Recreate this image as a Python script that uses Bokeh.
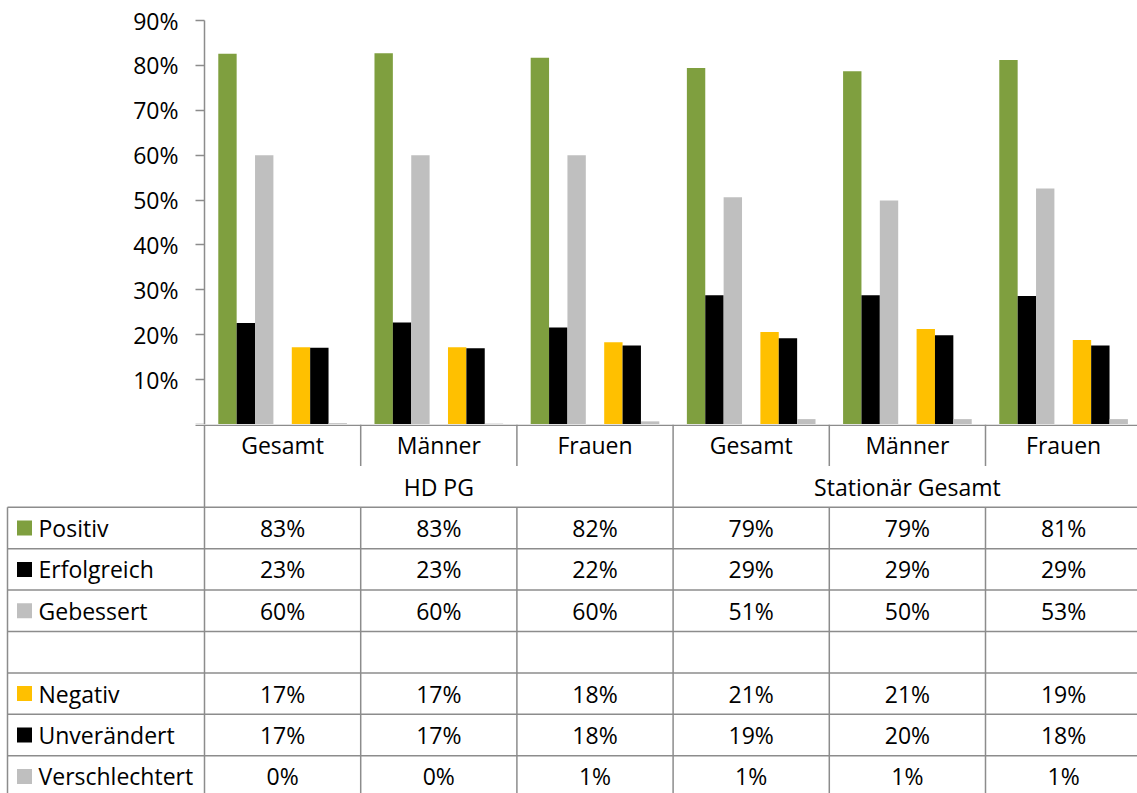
from bokeh.plotting import figure
from bokeh.layouts import column
from bokeh.models import Range1d, FixedTicker, ColumnDataSource
from bokeh.transform import dodge
from bokeh.core.properties import value
from bokeh.embed import file_html
from bokeh.resources import INLINE

# ---------------- data ----------------
categories = ["Gesamt", "Männer", "Frauen", "Gesamt", "Männer", "Frauen"]
groups = ["HD PG", "Stationär Gesamt"]
group_sizes = [3, 3]

series_names = ["Positiv", "Erfolgreich", "Gebessert", "", "Negativ", "Unverändert", "Verschlechtert"]
positiv = [82.6, 82.7, 81.7, 79.4, 78.7, 81.2]
erfolgreich = [22.6, 22.7, 21.6, 28.8, 28.8, 28.6]
gebessert = [60.0, 60.0, 60.0, 50.6, 49.9, 52.6]
leer = None  # empty spacer series
negativ = [17.2, 17.2, 18.3, 20.6, 21.3, 18.8]
unveraendert = [17.1, 17.0, 17.6, 19.2, 19.9, 17.6]
verschlechtert = [0.3, 0.2, 0.7, 1.2, 1.2, 1.2]
series_values = [positiv, erfolgreich, gebessert, leer, negativ, unveraendert, verschlechtert]

y_ticks = [0, 10, 20, 30, 40, 50, 60, 70, 80, 90]
y_tick_labels = ["", "10%", "20%", "30%", "40%", "50%", "60%", "70%", "80%", "90%"]

# ---------------- style / layout ----------------
colors = ["#7F9F3F", "#000000", "#BFBFBF", None, "#FFC000", "#000000", "#BFBFBF"]
LINE = "#8C8C8C"
FONT = "Open Sans"
FS = "23px"
W, H = 1137, 793
LEFT, TOP, BASE = 204, 20, 424
CAT_PX = 156.2
ROW_PX = 41.4
TABLE_LEFT_PX = 7
n_cat = len(categories)
n_ser = len(series_names)
bw = 1.0 / (n_ser + 1.5)

x_end = (W - LEFT) / CAT_PX

# ---------------- chart ----------------
p1 = figure(width=W, height=BASE, x_range=Range1d(0, x_end), y_range=Range1d(0, 90),
            min_border_left=LEFT, min_border_right=0, min_border_top=TOP, min_border_bottom=0,
            output_backend="svg", toolbar_location=None)
p1.frame_align = False
p1.xaxis.visible = False
p1.grid.visible = False
p1.outline_line_color = None
yax = p1.yaxis[0]
yax.ticker = FixedTicker(ticks=y_ticks)
yax.major_label_overrides = {t: l for t, l in zip(y_ticks, y_tick_labels)}
yax.major_label_text_font = FONT
yax.major_label_text_font_size = FS
yax.major_label_text_color = "#000000"
yax.major_tick_out = 9
yax.major_tick_in = 0
yax.minor_tick_line_color = None
yax.major_tick_line_color = LINE
yax.major_tick_line_width = 1.5
yax.axis_line_color = LINE
yax.axis_line_width = 1.5
yax.major_label_standoff = 17

centers = [i + 0.5 for i in range(n_cat)]
for k, (vals, col) in enumerate(zip(series_values, colors)):
    if vals is None:
        continue
    src = ColumnDataSource(dict(x=centers, top=vals))
    p1.vbar(x=dodge("x", (k - (n_ser - 1) / 2) * bw, range=p1.x_range), top="top", bottom=0,
            width=bw, source=src, fill_color=col, line_color=None)

# ---------------- table ----------------
n_rows_vis = (H - BASE) / ROW_PX
x_left = -LEFT / CAT_PX
x_tab = x_left + TABLE_LEFT_PX / CAT_PX
p2 = figure(width=W, height=H - BASE, x_range=Range1d(x_left, x_end), y_range=Range1d(n_rows_vis, 0),
            min_border=0, x_axis_type=None, y_axis_type=None,
            output_backend="svg", toolbar_location=None)
p2.frame_align = False
p2.grid.visible = False
p2.outline_line_color = None

x0s, y0s, x1s, y1s = [], [], [], []
top_off = 0.75 / ROW_PX
# axis baseline
x0s.append(-9 / CAT_PX); y0s.append(top_off); x1s.append(n_cat); y1s.append(top_off)
# table horizontal rules
for r in range(2, 2 + n_ser + 1):
    x0s.append(x_tab); y0s.append(r); x1s.append(n_cat); y1s.append(r)
# left border
x0s.append(x_tab); y0s.append(2); x1s.append(x_tab); y1s.append(n_rows_vis + 1)
# axis line continues down
x0s.append(0); y0s.append(0); x1s.append(0); y1s.append(n_rows_vis + 1)
# category / group separators
bounds = []
acc = 0
for g in group_sizes:
    acc += g
    bounds.append(acc)
for i in range(1, n_cat + 1):
    if i in bounds:
        x0s.append(i); y0s.append(0); x1s.append(i); y1s.append(n_rows_vis + 1)
    else:
        x0s.append(i); y0s.append(0); x1s.append(i); y1s.append(1)
        x0s.append(i); y0s.append(2); x1s.append(i); y1s.append(n_rows_vis + 1)
p2.segment(x0=x0s, y0=y0s, x1=x1s, y1=y1s, line_color=LINE, line_width=1.5)

# category labels
p2.text(x=centers, y=[0.5] * n_cat, text=categories, text_align="center", text_baseline="middle",
        text_font=value(FONT), text_font_size=FS, text_color="#000000")
# group labels
gx, start = [], 0
for g in group_sizes:
    gx.append(start + g / 2)
    start += g
p2.text(x=gx, y=[1.5] * len(groups), text=groups, text_align="center", text_baseline="middle",
        text_font=value(FONT), text_font_size=FS, text_color="#000000")

# table rows
sq_x, sq_y, sq_c, lab_y, lab_t = [], [], [], [], []
vx, vy, vt = [], [], []
for k, (name, vals, col) in enumerate(zip(series_names, series_values, colors)):
    ry = 2 + k + 0.5
    if vals is None:
        continue
    sq_x.append(x_left + 24 / CAT_PX); sq_y.append(ry); sq_c.append(col)
    lab_y.append(ry); lab_t.append(name)
    for i, v in enumerate(vals):
        vx.append(centers[i]); vy.append(ry); vt.append(f"{round(v)}%")
p2.rect(x=sq_x, y=sq_y, width=15, height=15, width_units="screen", height_units="screen",
        fill_color=sq_c, line_color=None)
p2.text(x=[x_left + 38 / CAT_PX] * len(lab_t), y=lab_y, text=lab_t, text_align="left",
        text_baseline="middle", text_font=value(FONT), text_font_size=FS, text_color="#000000")
p2.text(x=vx, y=vy, text=vt, text_align="center", text_baseline="middle",
        text_font=value(FONT), text_font_size=FS, text_color="#000000")

layout = column(p1, p2, spacing=0)
open("out.html", "w").write(file_html(layout, INLINE))
